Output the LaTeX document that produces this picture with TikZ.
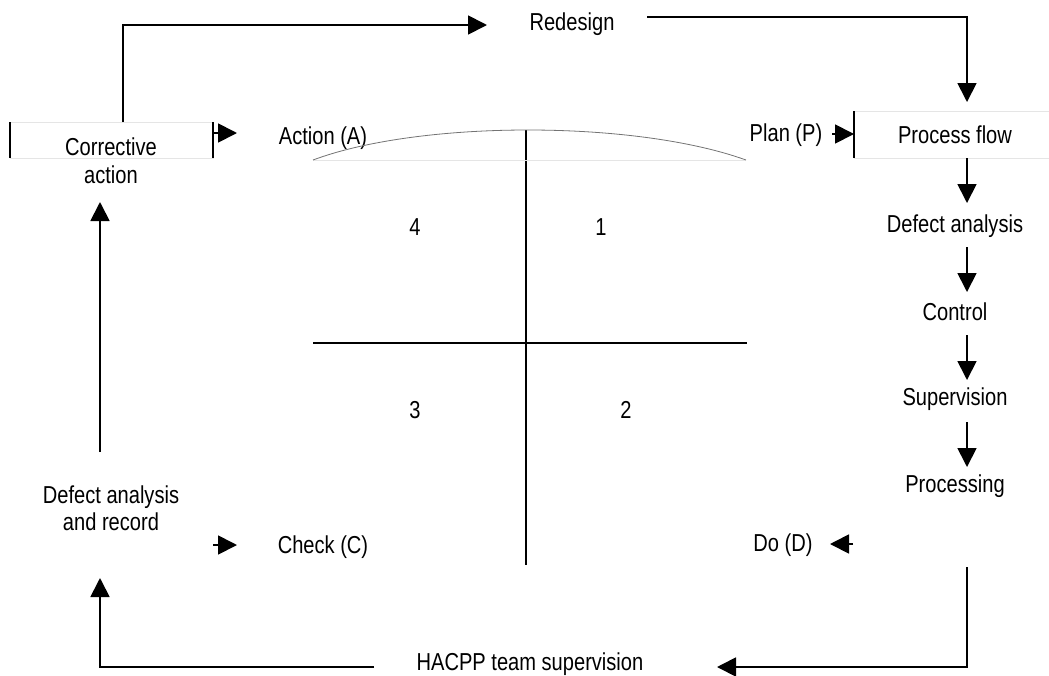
\documentclass[tikz,border=0pt]{standalone}
\usepackage{fontspec}
\setmainfont{Liberation Sans}[FakeStretch=0.82]
\usetikzlibrary{arrows.meta}
\begin{document}
\begin{tikzpicture}[x=1pt,y=-1pt,line width=1.8pt,
  lbl/.style={font=\fontsize{24.5}{28}\selectfont,inner sep=0pt,anchor=base},
  arr/.style={-{Triangle[width=19pt,length=19pt]}},
  faint/.style={draw=black!10,line width=0.7pt},
  arcline/.style={draw=black!55,line width=0.8pt}]
\useasboundingbox (0,0) rectangle (1049,675);

% text nodes
\node[lbl] (redesign) at (572,30) {Redesign};
\node[lbl] (corr1) at (111,155) {Corrective};
\node[lbl] (corr2) at (111,183) {action};
\node[lbl] (act) at (323,144) {Action (A)};
\node[lbl] (plan) at (786,141) {Plan (P)};
\node[lbl] (pflow) at (955,143) {Process flow};
\node[lbl] (defr) at (955,232) {Defect analysis};
\node[lbl] (ctrl) at (955,320) {Control};
\node[lbl] (sup) at (955,405) {Supervision};
\node[lbl] (proc) at (955,492) {Processing};
\node[lbl] (do) at (783,551) {Do (D)};
\node[lbl] (check) at (323,553) {Check (C)};
\node[lbl] (hacpp) at (530,670) {HACPP team supervision};
\node[lbl] (defl1) at (111,503) {Defect analysis};
\node[lbl] (defl2) at (111,530) {and record};
\node[lbl] (n4) at (415,235) {4};
\node[lbl] (n1) at (601,235) {1};
\node[lbl] (n3) at (415,418) {3};
\node[lbl] (n2) at (626,418) {2};

% boxes
\coordinate (cbTL) at (10,122);
\coordinate (cbBR) at (213,158);
\draw[faint] (cbTL) rectangle (cbBR);
\draw (10,122) -- (10,158);
\draw (213,122) -- (213,158);
\coordinate (pbTL) at (854,111);
\coordinate (pbBR) at (1049,158);
\draw[faint] (pbTL) -- (1049,111) (854,158) -- (pbBR);
\draw (854,111) -- (854,158);

% quadrant
\coordinate (vT) at (526,130);
\coordinate (vB) at (526,565);
\coordinate (hL) at (313,343);
\coordinate (hR) at (747,343);
\draw (vT) -- (vB);
\draw (hL) -- (hR);
\coordinate (aL) at (313,160);
\coordinate (aR) at (746,160);
\draw[faint] (aL) -- (aR);
\draw[arcline] (aL) .. controls (420,120) and (635,120) .. (aR);

% connectors
\coordinate (c1) at (123,122);
\coordinate (r1) at (487,25);
\draw[arr] (c1) |- (r1);
\coordinate (r2) at (647,17);
\coordinate (p1) at (967,102);
\draw[arr] (r2) -| (p1);
\coordinate (ca1) at (213,133);
\coordinate (ca2) at (237,133);
\draw[arr] (ca1) -- (ca2);
\coordinate (pl1) at (832,134);
\coordinate (pl2) at (854,134);
\draw[arr] (pl1) -- (pl2);
\coordinate (d1a) at (967,158); \coordinate (d1b) at (967,203);
\coordinate (d2a) at (967,247); \coordinate (d2b) at (967,292);
\coordinate (d3a) at (967,335); \coordinate (d3b) at (967,380);
\coordinate (d4a) at (967,422); \coordinate (d4b) at (967,467);
\draw[arr] (d1a) -- (d1b);
\draw[arr] (d2a) -- (d2b);
\draw[arr] (d3a) -- (d3b);
\draw[arr] (d4a) -- (d4b);
\coordinate (do1) at (853,544);
\coordinate (do2) at (830,544);
\draw[arr] (do1) -- (do2);
\coordinate (b1) at (967,567);
\coordinate (b2) at (717,667);
\draw[arr] (b1) |- (b2);
\coordinate (b3) at (374,667);
\coordinate (b4) at (100,578);
\draw[arr] (b3) -| (b4);
\coordinate (u1) at (100,452);
\coordinate (u2) at (100,202);
\draw[arr] (u1) -- (u2);
\coordinate (ch1) at (213,545);
\coordinate (ch2) at (237,545);
\draw[arr] (ch1) -- (ch2);
\end{tikzpicture}
\end{document}
